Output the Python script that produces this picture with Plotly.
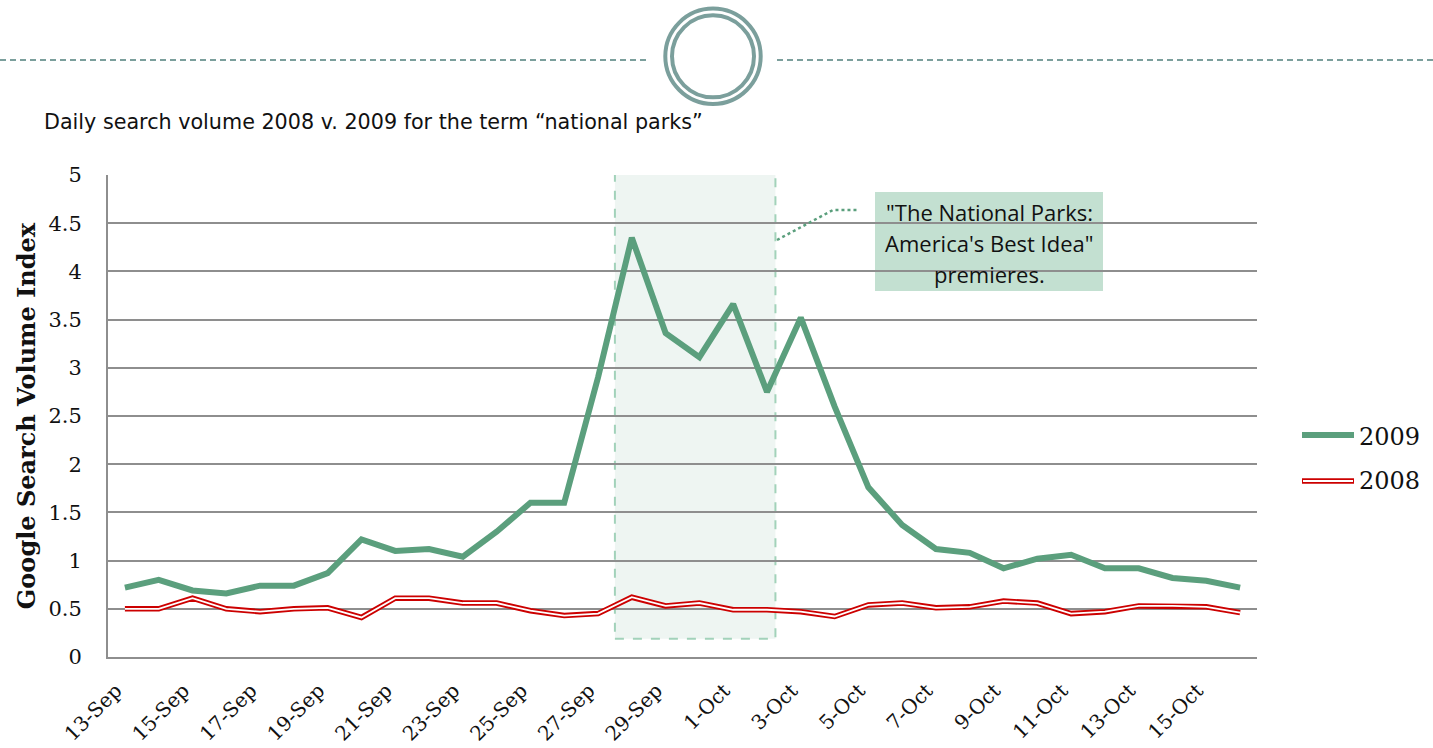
import plotly.graph_objects as go

dates = ["13-Sep", "14-Sep", "15-Sep", "16-Sep", "17-Sep", "18-Sep", "19-Sep", "20-Sep",
         "21-Sep", "22-Sep", "23-Sep", "24-Sep", "25-Sep", "26-Sep", "27-Sep", "28-Sep",
         "29-Sep", "30-Sep", "1-Oct", "2-Oct", "3-Oct", "4-Oct", "5-Oct", "6-Oct",
         "7-Oct", "8-Oct", "9-Oct", "10-Oct", "11-Oct", "12-Oct", "13-Oct", "14-Oct",
         "15-Oct", "16-Oct"]
vol_2009 = [0.72, 0.80, 0.69, 0.66, 0.74, 0.74, 0.87, 1.22, 1.10, 1.12, 1.04, 1.30,
            1.60, 1.60, 2.90, 4.35, 3.36, 3.11, 3.66, 2.75, 3.52, 2.60, 1.76, 1.37,
            1.12, 1.08, 0.92, 1.02, 1.06, 0.92, 0.92, 0.82, 0.79, 0.72]
vol_2008 = [0.50, 0.50, 0.61, 0.50, 0.47, 0.50, 0.51, 0.41, 0.61, 0.61, 0.56, 0.56,
            0.48, 0.43, 0.45, 0.62, 0.53, 0.56, 0.49, 0.49, 0.47, 0.42, 0.54, 0.56,
            0.51, 0.52, 0.58, 0.56, 0.45, 0.47, 0.53, 0.53, 0.52, 0.46]
tick_labels = dates[::2]
y_ticks = [0, 0.5, 1, 1.5, 2, 2.5, 3, 3.5, 4, 4.5, 5]

title_text = "Daily search volume 2008 v. 2009 for the term \u201cnational parks\u201d"
callout_lines = ["\"The National Parks:", "America's Best Idea\"", "premieres."]

GREEN = "#5b9f7d"
RED = "#cc0000"
GRID = "#8e8e8e"
TEAL = "#7b9f9c"
SERIF = "DejaVu Serif"

W, H = 1433, 748
PLOT_L, PLOT_R, PLOT_T, PLOT_B = 108, 1257, 175, 657   # page pixels
L, T, R, B = PLOT_L, PLOT_T, W - PLOT_R, H - PLOT_B
PW, PH = PLOT_R - PLOT_L, PLOT_B - PLOT_T


def px(x):
    return (x - PLOT_L) / PW


def py(y):
    return (PLOT_B - y) / PH


fig = go.Figure()
fig.add_trace(go.Scatter(x=dates, y=vol_2008, mode="lines", name="2008",
                         line=dict(color=RED, width=5.5), showlegend=False))
fig.add_trace(go.Scatter(x=dates, y=vol_2008, mode="lines", name="2008",
                         line=dict(color="white", width=1.8), showlegend=False,
                         hoverinfo="skip"))
fig.add_trace(go.Scatter(x=dates, y=vol_2009, mode="lines", name="2009",
                         line=dict(color=GREEN, width=6), showlegend=False))

shapes = []
# highlighted premiere window
shapes.append(dict(type="rect", xref="x", yref="y", x0=14.5, x1=19.25, y0=0.19, y1=5.05,
                   fillcolor="#eef5f2", line=dict(color="#a2d2ba", width=2, dash="dash"),
                   layer="below"))
# callout box
shapes.append(dict(type="rect", xref="paper", yref="paper", x0=px(875), x1=px(1103),
                   y0=py(291), y1=py(192), fillcolor="#c3e0d1", line=dict(width=0),
                   layer="below"))
# dotted connector
shapes.append(dict(type="path", xref="paper", yref="paper",
                   path=f"M {px(777)},{py(240)} L {px(833)},{py(210)} L {px(857)},{py(210)}",
                   line=dict(color=GREEN, width=2.5, dash="dot")))
# header decoration
shapes.append(dict(type="line", xref="paper", yref="paper", x0=px(0), x1=px(648),
                   y0=py(60), y1=py(60), line=dict(color=TEAL, width=2, dash="6px,4px")))
shapes.append(dict(type="line", xref="paper", yref="paper", x0=px(777), x1=px(1433),
                   y0=py(60), y1=py(60), line=dict(color=TEAL, width=2, dash="6px,4px")))
for r in (47.7, 41):
    shapes.append(dict(type="circle", xref="paper", yref="paper",
                       x0=px(713 - r), x1=px(713 + r), y0=py(56.3 + r), y1=py(56.3 - r),
                       line=dict(color=TEAL, width=4)))
# legend samples
shapes.append(dict(type="line", xref="paper", yref="paper", x0=px(1302), x1=px(1354),
                   y0=py(435), y1=py(435), line=dict(color=GREEN, width=6)))
shapes.append(dict(type="line", xref="paper", yref="paper", x0=px(1302), x1=px(1354),
                   y0=py(481), y1=py(481), line=dict(color=RED, width=5.5)))
shapes.append(dict(type="line", xref="paper", yref="paper", x0=px(1303), x1=px(1353),
                   y0=py(481), y1=py(481), line=dict(color="white", width=1.8)))

annotations = []
annotations.append(dict(text=title_text, xref="paper", yref="paper", x=px(42), y=py(122),
                        xanchor="left", yanchor="middle", showarrow=False,
                        font=dict(family="DejaVu Sans", size=20.7, color="#111")))
for i, line in enumerate(callout_lines):
    annotations.append(dict(text=line, xref="paper", yref="paper", x=px(989),
                            y=py(212 + 31 * i), xanchor="center", yanchor="middle",
                            showarrow=False,
                            font=dict(family="Open Sans, Noto Sans", size=22, color="#111")))
for yy, lbl in ((437, "2009"), (481, "2008")):
    annotations.append(dict(text=lbl, xref="paper", yref="paper", x=px(1357), y=py(yy),
                            xanchor="left", yanchor="middle", showarrow=False,
                            font=dict(family=SERIF, size=24, color="#111")))

fig.update_layout(
    width=W, height=H,
    margin=dict(l=L, r=R, t=T, b=B, pad=0, autoexpand=False),
    paper_bgcolor="white", plot_bgcolor="white",
    showlegend=False,
    shapes=shapes, annotations=annotations,
    xaxis=dict(type="category", range=[-0.5, 33.5], tickmode="array", tickvals=tick_labels,
               ticktext=tick_labels, tickangle=-45, showgrid=False, showline=True,
               linecolor=GRID, linewidth=2, ticks="", ticklabelstandoff=12,
               ticklabelshift=-9, automargin=False,
               tickfont=dict(family=SERIF, size=20, color="#111")),
    yaxis=dict(range=[0, 5], tickvals=y_ticks, showgrid=True, gridcolor=GRID, gridwidth=1.6,
               zeroline=False, showline=True, linecolor=GRID, linewidth=2, ticks="",
               ticklabelstandoff=20, automargin=False,
               tickfont=dict(family=SERIF, size=21, color="#111"),
               title=dict(text="<b>Google Search Volume Index</b>", standoff=6,
                          font=dict(family=SERIF, size=24, color="#111"))),
)

fig.write_html("out.html", config={"displayModeBar": False},
               post_script="document.body.style.margin='0';document.body.style.overflow='hidden';")
